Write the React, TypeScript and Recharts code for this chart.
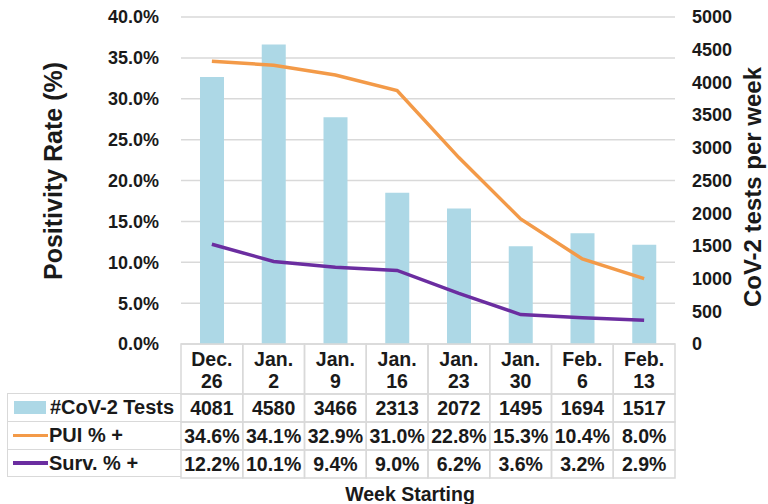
import { Bar, CartesianGrid, ComposedChart, Legend, Line, XAxis, YAxis } from "recharts";

const weeks = ["Dec. 26", "Jan. 2", "Jan. 9", "Jan. 16", "Jan. 23", "Jan. 30", "Feb. 6", "Feb. 13"];
const tests = [4081, 4580, 3466, 2313, 2072, 1495, 1694, 1517];
const puiRate = [34.6, 34.1, 32.9, 31.0, 22.8, 15.3, 10.4, 8.0];
const survRate = [12.2, 10.1, 9.4, 9.0, 6.2, 3.6, 3.2, 2.9];
const rateTicks = [0, 5, 10, 15, 20, 25, 30, 35, 40];
const testTicks = [0, 500, 1000, 1500, 2000, 2500, 3000, 3500, 4000, 4500, 5000];

const data = weeks.map((week, i) => ({
    week,
    tests: tests[i],
    pui: puiRate[i],
    surv: survRate[i],
}));

const FONT = '"Liberation Sans", Arial, sans-serif';
const TEXT = "#1a1a1a";
const BORDER = "#D9D9D9";
const PLOT_LEFT = 181;
const PLOT_RIGHT = 675;
const COL_W = (PLOT_RIGHT - PLOT_LEFT) / weeks.length;
const HEADER_H = 50;
const ROW_H = 28;

const pct = (v: number) => `${v.toFixed(1)}%`;

// x axis tick = one column of the data table under the chart
const TableTick = (props: any) => {
    const { x, y, payload } = props;
    const i = props.index ?? payload.index;
    const [month, day] = String(payload.value).split(" ");
    const left = x - COL_W / 2;
    const rows = [String(tests[i]), pct(puiRate[i]), pct(survRate[i])];
    const txt = { fontFamily: FONT, fontSize: 19.5, fontWeight: 700, fill: TEXT, textAnchor: "middle" as const, dominantBaseline: "central" as const };
    return (
        <g>
            <rect x={left} y={y} width={COL_W} height={HEADER_H} fill="none" stroke={BORDER} strokeWidth={1.5} />
            <text x={x} y={y + 15} {...txt}>{month}</text>
            <text x={x} y={y + 37} {...txt}>{day}</text>
            {rows.map((r, k) => (
                <g key={k}>
                    <rect x={left} y={y + HEADER_H + k * ROW_H} width={COL_W} height={ROW_H} fill="none" stroke={BORDER} strokeWidth={1.5} />
                    <text x={x} y={y + HEADER_H + k * ROW_H + ROW_H / 2} {...txt}>{r}</text>
                </g>
            ))}
        </g>
    );
};

const TableLegend = ({ payload }: any) => (
    <div style={{ width: PLOT_LEFT - 7, fontFamily: FONT, fontSize: 20, fontWeight: 700, color: TEXT }}>
        {(payload || []).map((entry: any, i: number) => (
            <div
                key={entry.value}
                style={{
                    height: ROW_H,
                    boxSizing: "border-box",
                    display: "flex",
                    alignItems: "center",
                    borderLeft: `1.5px solid ${BORDER}`,
                    borderTop: `1.5px solid ${BORDER}`,
                    borderBottom: i === payload.length - 1 ? `1.5px solid ${BORDER}` : "none",
                }}
            >
                {entry.type === "line" ? (
                    <span style={{ display: "inline-block", width: 35, height: 3.5, marginLeft: 5, background: entry.color }} />
                ) : (
                    <span style={{ display: "inline-block", width: 32, height: 13, marginLeft: 6, marginRight: 3, background: entry.color }} />
                )}
                <span style={{ marginLeft: 1, whiteSpace: "nowrap" }}>{entry.value}</span>
            </div>
        ))}
    </div>
);

export default function App() {
    return (
        <div style={{ position: "absolute", left: 0, top: 0 }}>
            <ComposedChart width={768} height={504} data={data} margin={{ top: 17, right: 0, bottom: 0, left: 0 }} barCategoryGap={0}>
                <CartesianGrid vertical={false} stroke={BORDER} strokeWidth={1.5} />
                <XAxis
                    dataKey="week"
                    height={160}
                    tickSize={0}
                    tickMargin={0}
                    axisLine={false}
                    interval={0}
                    tick={TableTick}
                    label={() => (
                        <text x={410} y={494} textAnchor="middle" dominantBaseline="central" fontFamily={FONT} fontSize={19.5} fontWeight={700} fill={TEXT}>
                            Week Starting
                        </text>
                    )}
                />
                <YAxis
                    orientation="left"
                    width={PLOT_LEFT}
                    domain={[0, 40]}
                    ticks={rateTicks}
                    tickFormatter={pct}
                    axisLine={false}
                    tickLine={false}
                    tickSize={0}
                    tickMargin={22}
                    tick={{ fontFamily: FONT, fontSize: 18, fontWeight: 700, fill: TEXT }}
                    label={() => (
                        <text x={53} y={171} transform="rotate(-90 53 171)" textAnchor="middle" dominantBaseline="central" fontFamily={FONT} fontSize={25} fontWeight={700} fill={TEXT}>
                            Positivity Rate (%)
                        </text>
                    )}
                />
                <YAxis
                    yAxisId="tests"
                    orientation="right"
                    width={768 - PLOT_RIGHT}
                    domain={[0, 5000]}
                    ticks={testTicks}
                    axisLine={false}
                    tickLine={false}
                    tickSize={0}
                    tickMargin={17}
                    tick={{ fontFamily: FONT, fontSize: 18, fontWeight: 700, fill: TEXT, textAnchor: "start" }}
                    label={() => (
                        <text x={752} y={187} transform="rotate(-90 752 187)" textAnchor="middle" dominantBaseline="central" fontFamily={FONT} fontSize={24} fontWeight={700} fill={TEXT}>
                            CoV-2 tests per week
                        </text>
                    )}
                />
                <Legend
                    layout="vertical"
                    align="center"
                    verticalAlign="middle"
                    wrapperStyle={{ left: 7, top: 343 + HEADER_H, width: PLOT_LEFT - 7 }}
                    content={TableLegend}
                />
                <Bar yAxisId="tests" dataKey="tests" name="#CoV-2 Tests" fill="#ADD8E6" barSize={24} isAnimationActive={false} />
                <Line type="linear" dataKey="pui" name="PUI % +" stroke="#F39A48" strokeWidth={3.5} dot={false} activeDot={false} isAnimationActive={false} legendType="line" />
                <Line type="linear" dataKey="surv" name="Surv. % +" stroke="#6B2DA0" strokeWidth={3.5} dot={false} activeDot={false} isAnimationActive={false} legendType="line" />
            </ComposedChart>
        </div>
    );
}
